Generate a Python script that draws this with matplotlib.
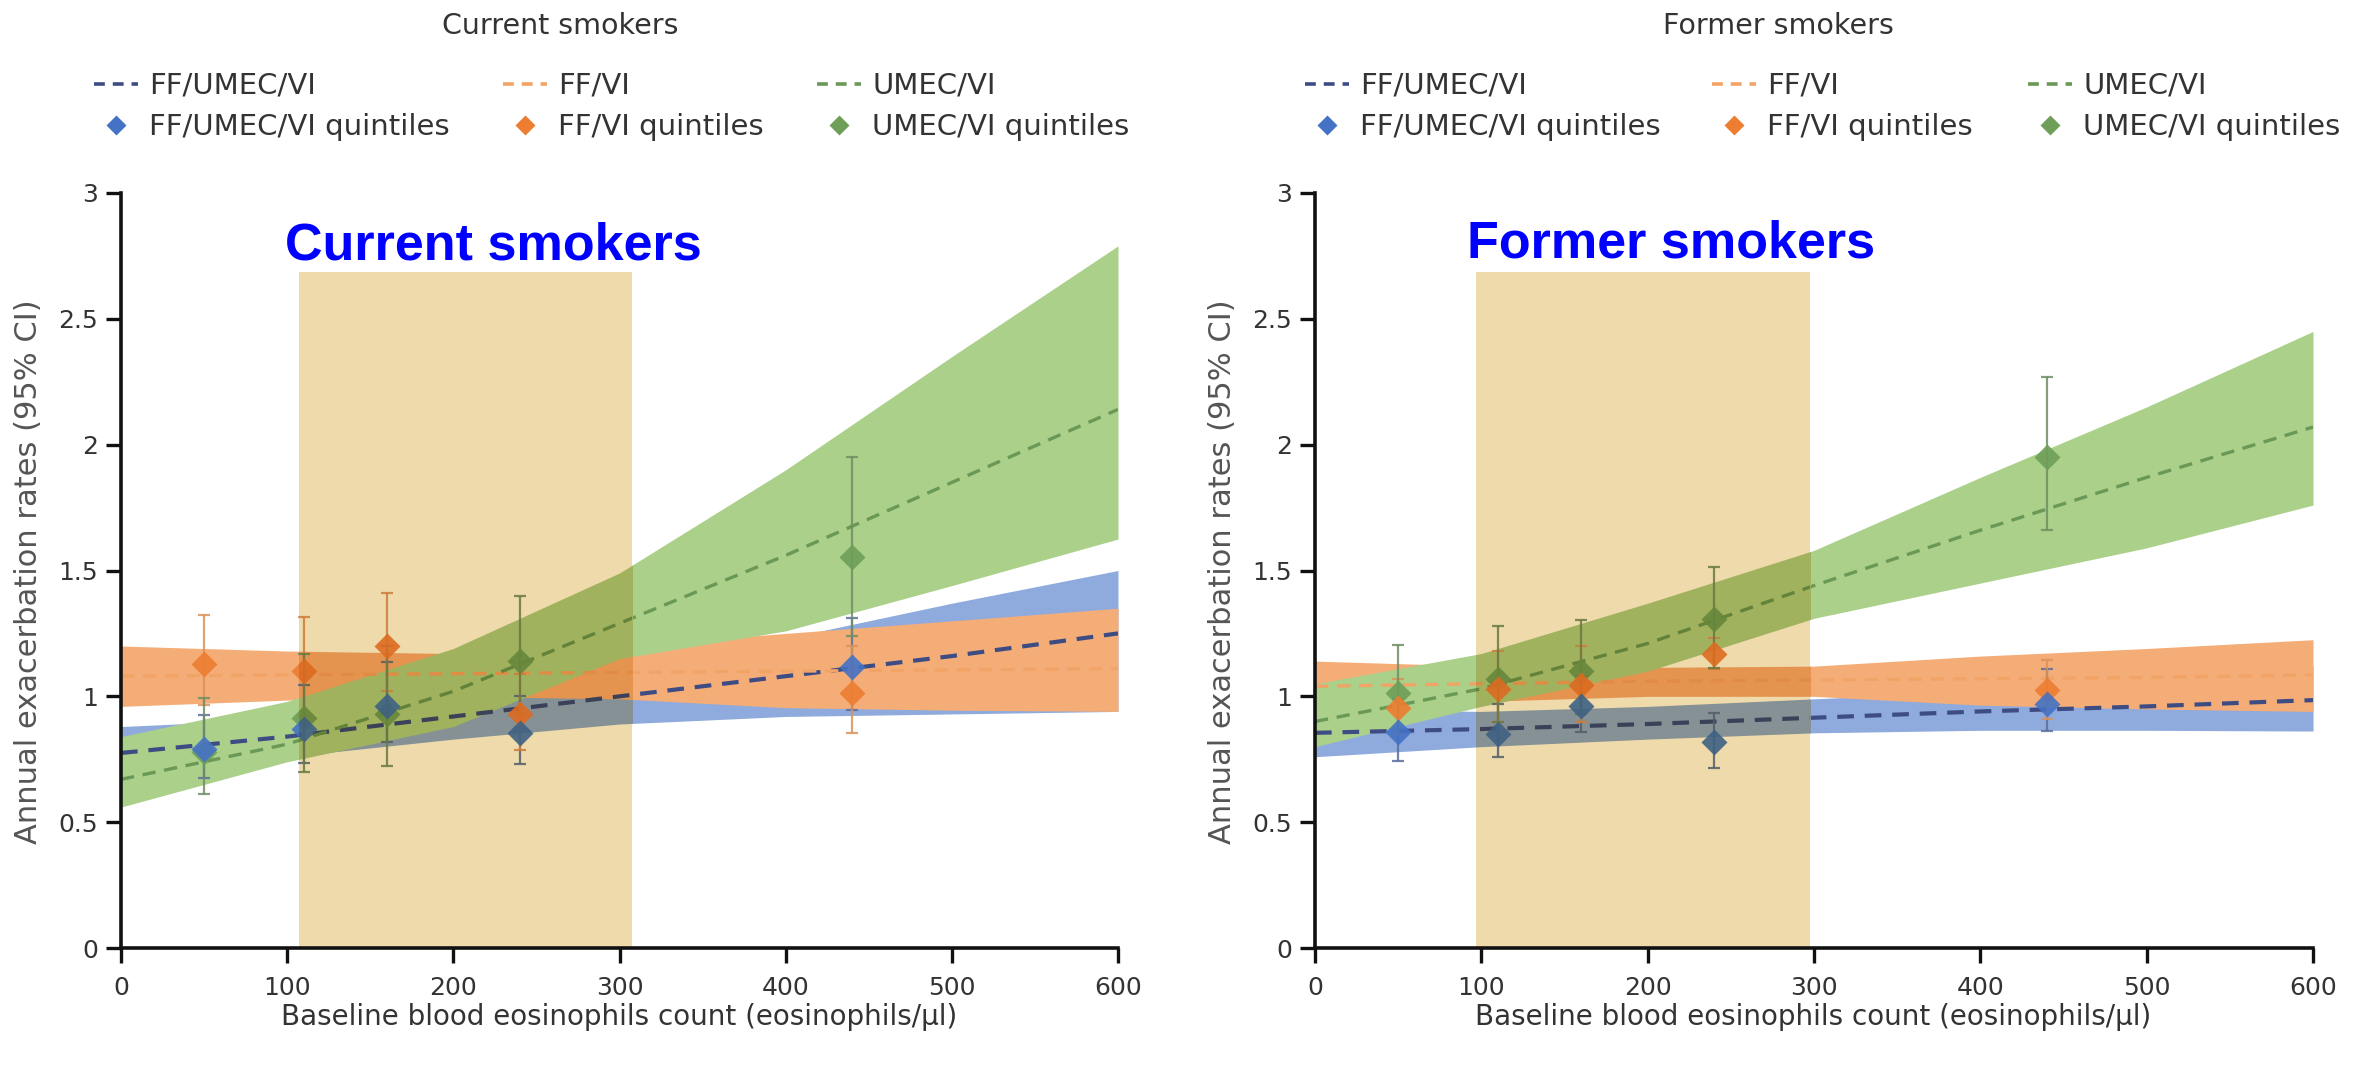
import matplotlib.pyplot as plt
import matplotlib.colors as mcolors
from matplotlib.patches import Rectangle
from matplotlib.lines import Line2D
import numpy as np

plt.rcParams['font.family'] = ['DejaVu Sans']

# ================= data =================
eos = [0, 100, 200, 300, 400, 500, 600]
quint_eos = [50, 110, 160, 240, 440]

# current smokers - model fits (estimate, lower, upper)
cur_triple = [0.775, 0.84, 0.92, 1.00, 1.08, 1.16, 1.25]
cur_triple_lo = [0.68, 0.76, 0.83, 0.89, 0.92, 0.93, 0.94]
cur_triple_hi = [0.88, 0.91, 0.97, 1.06, 1.23, 1.37, 1.50]
cur_ffvi = [1.08, 1.085, 1.09, 1.095, 1.10, 1.105, 1.11]
cur_ffvi_lo = [0.96, 0.985, 1.00, 0.99, 0.955, 0.945, 0.94]
cur_ffvi_hi = [1.20, 1.18, 1.17, 1.20, 1.25, 1.30, 1.35]
cur_umecvi = [0.67, 0.81, 1.02, 1.29, 1.56, 1.85, 2.14]
cur_umecvi_lo = [0.56, 0.74, 0.88, 1.15, 1.26, 1.44, 1.625]
cur_umecvi_hi = [0.84, 0.98, 1.19, 1.49, 1.90, 2.35, 2.79]

# current smokers - quintiles
cur_q_triple = [0.79, 0.87, 0.96, 0.855, 1.115]
cur_q_triple_lo = [0.676, 0.734, 0.82, 0.73, 0.944]
cur_q_triple_hi = [0.924, 1.044, 1.137, 1.00, 1.312]
cur_q_ffvi = [1.13, 1.10, 1.20, 0.93, 1.015]
cur_q_ffvi_lo = [0.965, 0.92, 1.02, 0.786, 0.855]
cur_q_ffvi_hi = [1.322, 1.316, 1.41, 1.09, 1.20]
cur_q_umecvi = [0.78, 0.915, 0.93, 1.14, 1.553]
cur_q_umecvi_lo = [0.61, 0.70, 0.722, 0.93, 1.24]
cur_q_umecvi_hi = [0.995, 1.17, 1.20, 1.40, 1.951]

# former smokers - model fits
for_triple = [0.855, 0.87, 0.89, 0.915, 0.94, 0.96, 0.985]
for_triple_lo = [0.76, 0.80, 0.83, 0.855, 0.865, 0.865, 0.862]
for_triple_hi = [0.95, 0.94, 0.96, 0.99, 1.02, 1.07, 1.12]
for_ffvi = [1.04, 1.05, 1.06, 1.065, 1.07, 1.075, 1.085]
for_ffvi_lo = [0.95, 0.98, 1.00, 1.00, 0.965, 0.95, 0.94]
for_ffvi_hi = [1.14, 1.12, 1.115, 1.12, 1.16, 1.19, 1.225]
for_umecvi = [0.90, 1.03, 1.21, 1.44, 1.66, 1.87, 2.07]
for_umecvi_lo = [0.80, 0.96, 1.10, 1.31, 1.45, 1.59, 1.76]
for_umecvi_hi = [1.05, 1.17, 1.37, 1.58, 1.87, 2.15, 2.45]

# former smokers - quintiles
for_q_triple = [0.86, 0.85, 0.962, 0.82, 0.971]
for_q_triple_lo = [0.745, 0.758, 0.859, 0.716, 0.862]
for_q_triple_hi = [0.99, 0.97, 1.08, 0.935, 1.11]
for_q_ffvi = [0.955, 1.03, 1.046, 1.167, 1.024]
for_q_ffvi_lo = [0.85, 0.90, 0.90, 1.11, 0.91]
for_q_ffvi_hi = [1.07, 1.18, 1.20, 1.23, 1.144]
for_q_umecvi = [1.015, 1.07, 1.10, 1.306, 1.95]
for_q_umecvi_lo = [0.87, 0.90, 0.93, 1.114, 1.66]
for_q_umecvi_hi = [1.203, 1.28, 1.303, 1.515, 2.27]

series = ['FF/UMEC/VI', 'FF/VI', 'UMEC/VI']
y_ticks = [0, 0.5, 1, 1.5, 2, 2.5, 3]
y_tick_labels = ['0', '0.5', '1', '1.5', '2', '2.5', '3']
x_ticks = [0, 100, 200, 300, 400, 500, 600]

# ================= styles =================
BAND = {'FF/UMEC/VI': '#8FAADC', 'FF/VI': '#F5AD78', 'UMEC/VI': '#ABD08A'}
LINE = {'FF/UMEC/VI': '#3E4C84', 'FF/VI': '#F2A366', 'UMEC/VI': '#6A9856'}
MARK = {'FF/UMEC/VI': '#4472C4', 'FF/VI': '#ED7D31', 'UMEC/VI': '#6E9E58'}
ERR = {'FF/UMEC/VI': '#5A6E9E', 'FF/VI': '#D9925A', 'UMEC/VI': '#6F8E62'}
LW = {'FF/UMEC/VI': 3.0, 'FF/VI': 2.4, 'UMEC/VI': 2.4}
TAN = '#EEDAAB'


def mult(c, tint):
    # multiply blend, like a highlighter over the chart
    if tint is None:
        return c
    return tuple(np.array(mcolors.to_rgb(c)) * np.array(mcolors.to_rgb(tint)))


def draw_layer(ax, fits, quints, tint=None, clip=None, z=1):
    arts = []
    for s in series:
        f, lo, hi = fits[s]
        arts.append(ax.fill_between(eos, lo, hi, color=mult(BAND[s], tint), lw=0, zorder=z))
    for s in series:
        arts += ax.plot(eos, fits[s][0], color=mult(LINE[s], tint), lw=LW[s],
                        dashes=(4, 2.6), zorder=z + 1)
    for s in series:
        y, lo, hi = quints[s]
        err = [np.subtract(y, lo), np.subtract(hi, y)]
        eb = ax.errorbar(quint_eos, y, yerr=err, fmt='none', ecolor=mult(ERR[s], tint),
                         elinewidth=1.6, capsize=4, capthick=1.6, alpha=0.85, zorder=z + 2)
        arts += list(eb.lines[1]) + list(eb.lines[2])
    for s in ['UMEC/VI', 'FF/VI', 'FF/UMEC/VI']:
        arts += ax.plot(quint_eos, quints[s][0], 'D', ms=13, color=mult(MARK[s], tint),
                        mec='none', alpha=0.9, zorder=z + 3)
    if clip is not None:
        for a in arts:
            a.set_clip_path(clip)


def panel(ax, fits, quints, band_x, title_x, title_y, big):
    draw_layer(ax, fits, quints)
    rect = Rectangle((band_x[0], 0), band_x[1] - band_x[0], 2.686, color=TAN, lw=0, zorder=6)
    ax.add_patch(rect)
    draw_layer(ax, fits, quints, tint=TAN, clip=rect, z=7)
    ax.text(title_x, title_y, big, ha='center', va='baseline', color='#0000FF',
            fontsize=37.5, fontweight='bold',
            family=['Liberation Sans', 'DejaVu Sans'], zorder=20)

    ax.set_xlim(0, 600)
    ax.set_ylim(0, 3)
    ax.set_xticks(x_ticks)
    ax.set_yticks(y_ticks)
    ax.set_yticklabels(y_tick_labels)
    for sp in ['top', 'right']:
        ax.spines[sp].set_visible(False)
    for sp in ['left', 'bottom']:
        ax.spines[sp].set_linewidth(2.6)
        ax.spines[sp].set_color('#111111')
        ax.spines[sp].set_zorder(30)
    ax.tick_params(length=10.5, width=2.4, color='#111111', labelsize=18,
                   labelcolor='#333333', pad=6)
    ax.tick_params(axis='x', pad=10)


fig = plt.figure(figsize=(23.63, 10.76), dpi=100)
W, H = 2363.0, 1076.0
ax1 = fig.add_axes([121 / W, 1 - 948 / H, 997 / W, 755 / H])
ax2 = fig.add_axes([1315 / W, 1 - 948 / H, 998 / W, 755 / H])

cur_fits = {'FF/UMEC/VI': (cur_triple, cur_triple_lo, cur_triple_hi),
            'FF/VI': (cur_ffvi, cur_ffvi_lo, cur_ffvi_hi),
            'UMEC/VI': (cur_umecvi, cur_umecvi_lo, cur_umecvi_hi)}
cur_quints = {'FF/UMEC/VI': (cur_q_triple, cur_q_triple_lo, cur_q_triple_hi),
              'FF/VI': (cur_q_ffvi, cur_q_ffvi_lo, cur_q_ffvi_hi),
              'UMEC/VI': (cur_q_umecvi, cur_q_umecvi_lo, cur_q_umecvi_hi)}
for_fits = {'FF/UMEC/VI': (for_triple, for_triple_lo, for_triple_hi),
            'FF/VI': (for_ffvi, for_ffvi_lo, for_ffvi_hi),
            'UMEC/VI': (for_umecvi, for_umecvi_lo, for_umecvi_hi)}
for_quints = {'FF/UMEC/VI': (for_q_triple, for_q_triple_lo, for_q_triple_hi),
              'FF/VI': (for_q_ffvi, for_q_ffvi_lo, for_q_ffvi_hi),
              'UMEC/VI': (for_q_umecvi, for_q_umecvi_lo, for_q_umecvi_hi)}

panel(ax1, cur_fits, cur_quints, (107.2, 307.8), 224, 2.735, 'Current smokers')
panel(ax2, for_fits, for_quints, (96.9, 297.8), 214, 2.745, 'Former smokers')

# axis labels and small panel titles
for ax_left, title, tx in [(121, 'Current smokers', 560), (1315, 'Former smokers', 1778)]:
    fig.text(ax_left / W - 92 / W, 1 - 572 / H, 'Annual exacerbation rates (95% CI)',
             rotation=90, ha='center', va='center', fontsize=22, color='#555555')
    fig.text((ax_left + 498) / W, 1 - 1017 / H,
             'Baseline blood eosinophils count (eosinophils/\u00b5l)',
             ha='center', va='center', fontsize=20, color='#333333')
    fig.text(tx / W, 1 - 26 / H, title, ha='center', va='center', fontsize=20.5, color='#333333')

# legends: one per column, two rows each
leg_cols = {'left': [94, 503, 817], 'right': [1305, 1712, 2028]}
for side in ['left', 'right']:
    for s, xpx in zip(series, leg_cols[side]):
        h_line = Line2D([], [], color=LINE[s], lw=2.6, dashes=(3, 2.2))
        h_mark = Line2D([], [], color=MARK[s], marker='D', ms=10, mec='none', ls='none')
        fig.legend([h_line, h_mark], [s, s + ' quintiles'], loc='center left',
                   bbox_to_anchor=(xpx / W, 1 - 106.5 / H), frameon=False,
                   fontsize=21, handlelength=1.5, handletextpad=0.4,
                   borderpad=0, borderaxespad=0, labelspacing=0.45, labelcolor='#333333')

fig.savefig('out.png', dpi=100, facecolor='white')
